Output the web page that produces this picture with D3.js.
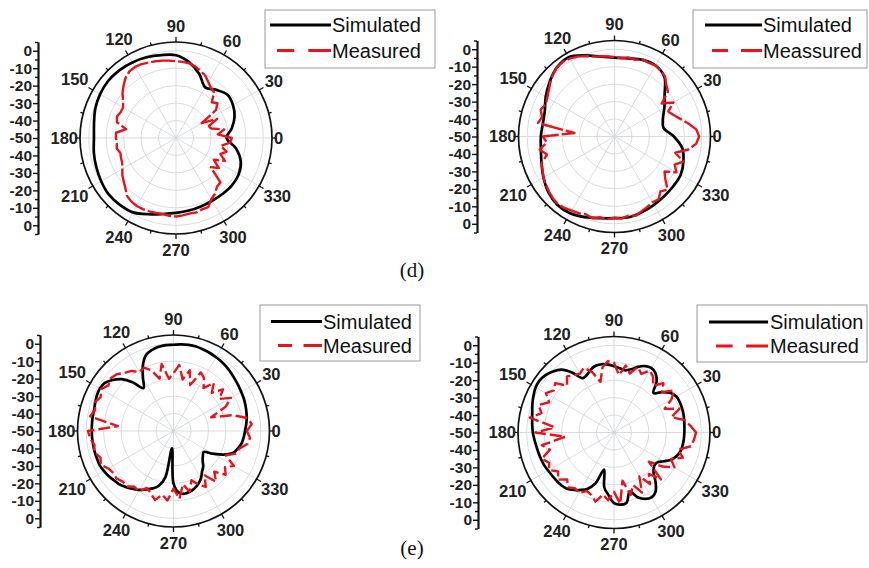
<!DOCTYPE html>
<html><head><meta charset="utf-8">
<script src="https://cdn.jsdelivr.net/npm/d3@7"></script>
<style>body{margin:0;background:#fff}svg{display:block}</style>
</head><body>
<svg id="c" width="869" height="568"></svg>
<script>
// ---------- DATA ----------
const angles10 = d3.range(0, 360, 10);
const angles5 = d3.range(0, 360, 5);
const angleTicks = [0, 30, 60, 90, 120, 150, 180, 210, 240, 270, 300, 330];
const radialTicksUpper = [0, -10, -20, -30, -40, -50];
const radialTicksLower = [0, -10, -20, -30, -40];
const radialMinor = [5, -5, -15, -25, -35, -45];
const gridLevels = [-40, -30, -20, -10, 0];

// (d) left: simulated (10 deg steps), measured (5 deg steps), dB
const sim1 = [-21,-17.5,-14.3,-12.3,-11.5,-14,-16.5,-11,-6,-2.6,-1.8,-0.8,0,0.6,0.8,0.2,-0.8,-2.3,-3,-2.2,-1.4,-0.5,0.3,0,-0.8,-3.5,-5.8,-7.1,-7.8,-8.3,-8.5,-8.3,-8,-8.5,-10.5,-15];
const meas1 = [-18,-26,-22,-29,-30,-24,-33,-22,-19,-21,-16,-15,-13,-10.5,-9,-7.5,-6.5,-6.2,-6,-5.5,-5,-4.5,-4,-3.3,-3,-3.4,-5,-7.5,-10,-13,-15,-15,-14,-15,-21,-15.5,-15.6,-16,-15.5,-17,-16.5,-16,-14.5,-12.5,-11,-9,-6.5,-5.5,-5,-5,-5.3,-5.5,-5.8,-5.3,-5,-5.5,-6,-5.8,-6.5,-6.3,-9.5,-11,-13.5,-14,-24,-20,-25,-19,-23,-20,-24,-19];

// (d) right
const sim2 = [-16,-21.5,-20.5,-17,-12.5,-5.5,-3,-3.3,-4.6,-4.8,-3.5,-0.5,2.5,1.5,-1.5,-4.5,-7.5,-8.3,-7.8,-7.2,-5.5,-3,-0.5,1,0.8,-0.8,-2.5,-3.2,-3,-3.9,-4.8,-5.5,-5.9,-6.2,-8,-10.5];
const meas2 = [-1.5,-3,-7,-11,-14,-16,-11,-17,-10,-8,-5,-4,-3,-3.5,-3,-4.5,-4,-5,-4.5,-4,-3.5,-2.5,-1,0.5,1.5,2,1.5,0,-2,-4,-5.5,-6.5,-5,-7,-5.5,-27,-9,-11,-6.5,-10,-5.5,-4.5,-3,-2,-1,0,0.5,0,-1,-1.5,-2.5,-1.5,-3,-2.5,-3.5,-2.8,-4,-3,-4.5,-5.5,-6.5,-6,-9,-7,-12,-15,-9,-12,-8,-14,-7,-3];

// (e) left (5 deg steps)
const sim3 = [-9,-8.2,-7.4,-6.8,-6.2,-5.6,-5.2,-4.6,-4,-3.2,-2.4,-1.7,-1.2,-0.7,-0.3,0.1,0.1,-0.2,-0.6,-0.6,-1,-2,-3.8,-8.5,-15,-20,-13.5,-8,-4.5,-2,-1.3,-1.6,-2.3,-2.9,-3,-3.1,-3.2,-3.2,-3.3,-3.3,-3.4,-3.4,-4,-4.8,-5.8,-6.5,-8,-9.5,-11,-13,-15,-17.5,-23,-40,-20,-14.5,-13.5,-14,-15,-16.5,-18.6,-21.5,-23.5,-26.4,-28,-29,-24,-18,-13.5,-11.8,-10.3,-9.6];
const meas3 = [-8,-5,-7,-15,-27,-17,-12,-18,-13,-19,-14,-20,-15,-13,-22,-14,-20,-12,-17,-20,-11,-19,-13,-10,-11,-8,-6.5,-4,-3,-4.5,-2,-4,-2,-3.5,-1.5,-18,-1,-2,-4,-3,-5.5,-4,-7,-8,-7.5,-9,-8.5,-11,-10,-14,-12,-9,-13,-10,-17,-11,-19,-14,-20,-16,-13,-19,-12,-17,-11,-14,-10,-17,-12,-11,-7,-6];

// (e) right
const sim4 = [-9.7,-9.5,-9.2,-8.8,-8.6,-8.5,-8.7,-10.5,-14,-18,-12,-8.5,-7.3,-8,-10,-12.5,-13.8,-13,-12,-11,-10.3,-10.3,-11.5,-13.5,-14,-8,-3,-0.5,1.2,2,1.8,0.8,-0.3,-1.5,-2.4,-3,-3.5,-4.2,-4.8,-5.2,-5.5,-5.8,-6.4,-6.8,-7,-7.3,-8,-9.8,-12,-14.5,-19,-28,-18,-14,-9.5,-8.5,-9,-15,-10.5,-8,-7,-8.5,-13,-18,-20,-20,-17,-13.5,-11.5,-10.3,-10,-9.8];
const meas4 = [-3,-6,-9,-16,-10,-18,-12,-8,-14,-10,-15,-11,-9,-13,-10,-15,-11,-17,-10,-9,-12,-20,-13,-9,-11,-10,-8,-12,-6,-8,-5,-9,-4,-7,-1,-16,-5,-22,-8,-12,-6,-9,-7,-11,-8,-12,-9,-11,-10,-13,-12,-9,-14,-11,-16,-9,-22,-13,-18,-12,-21,-14,-19,-12,-24,-16,-10,-14,-8,-12,-5,-4];

const legendNames1 = ["Simulated", "Measured"];
const legendNames2 = ["Simulated", "Meassured"];
const legendNames3 = ["Simulated", "Measured"];
const legendNames4 = ["Simulation", "Measured"];
const captions = ["(d)", "(e)"];

// ---------- LAYOUT ----------
const R = 96;
const rScale = d3.scaleLinear().domain([-50, 5]).range([0, R]);
const RED = "#e8141c";
const panels = [
  {cx:176, cy:138, axisX:38, sim:sim1, simA:angles10, meas:meas1, measA:angles5, dash:"24,3",
   leg:{x:265, y:10, w:170, h:58, l1:25, l2:50.5, lx0:270, lx1:331, tx:332, names:legendNames1}},
  {cx:614.5, cy:136.5, axisX:477, sim:sim2, simA:angles10, meas:meas2, measA:angles5, dash:"22,3",
   leg:{x:693, y:10, w:174, h:58, l1:25, l2:50.5, lx0:705, lx1:762, tx:763, names:legendNames2}},
  {cx:173.5, cy:431, axisX:40, sim:sim3, simA:angles5, meas:meas3, measA:angles5, dash:"12,4",
   leg:{x:260, y:305, w:160, h:56, l1:321.5, l2:345.5, lx0:271, lx1:322, tx:323, names:legendNames3}},
  {cx:614, cy:432.5, axisX:478, sim:sim4, simA:angles5, meas:meas4, measA:angles5, dash:"12,4",
   leg:{x:697, y:305, w:170, h:57, l1:322, l2:346, lx0:709, lx1:768, tx:770, names:legendNames4}}
];

const svg = d3.select("#c");
const rad = a => (90 - a) * Math.PI / 180;   // lineRadial angle convention
const deg = a => a * Math.PI / 180;
const FONT = "Liberation Sans, Arial, sans-serif";

function drawPanel(p) {
  const g = svg.append("g").attr("transform", `translate(${p.cx},${p.cy})`);
  // grid
  g.selectAll("circle.grid").data(gridLevels).join("circle")
    .attr("class","grid").attr("r", d => rScale(d))
    .attr("fill","none").attr("stroke","#cfd3d6").attr("stroke-width",0.8);
  g.selectAll("line.spoke").data(angleTicks).join("line")
    .attr("x1",0).attr("y1",0)
    .attr("x2", d => R*Math.cos(deg(d))).attr("y2", d => -R*Math.sin(deg(d)))
    .attr("stroke","#cfd3d6").attr("stroke-width",0.8);
  // ring
  g.append("circle").attr("r", R).attr("fill","none").attr("stroke","#111").attr("stroke-width",1.7);
  const ringTicks = d3.range(0, 360, 15);
  g.selectAll("line.rt").data(ringTicks).join("line")
    .attr("x1", d => R*Math.cos(deg(d))).attr("y1", d => -R*Math.sin(deg(d)))
    .attr("x2", d => (R + (d%30===0?5:3))*Math.cos(deg(d)))
    .attr("y2", d => -(R + (d%30===0?5:3))*Math.sin(deg(d)))
    .attr("stroke","#111").attr("stroke-width",1.3);

  // simulated
  const simLine = d3.lineRadial()
    .angle((d,i) => rad(p.simA[i])).radius(d => rScale(d))
    .curve(d3.curveCatmullRomClosed.alpha(0.5));
  g.append("path").attr("d", simLine(p.sim))
    .attr("fill","none").attr("stroke","#000").attr("stroke-width",2.7).attr("stroke-linejoin","round");
  // measured
  const measLine = d3.lineRadial()
    .angle((d,i) => rad(p.measA[i])).radius(d => rScale(d))
    .curve(d3.curveLinearClosed);
  g.append("path").attr("d", measLine(p.meas))
    .attr("fill","none").attr("stroke",RED).attr("stroke-width",2.4)
    .attr("stroke-dasharray",p.dash).attr("stroke-linejoin","round");

  // angle labels
  angleTicks.forEach(a => {
    const t = g.append("text").text(a)
      .attr("font-family",FONT).attr("font-weight","bold")
      .attr("font-size",16.5).attr("fill","#222").attr("text-anchor","middle").attr("dy","0.36em");
    const w = t.node().getComputedTextLength();
    const c = Math.cos(deg(a)), s = Math.sin(deg(a));
    const gap = Math.abs(s) < 0.1 ? 2 : (Math.abs(s) > 0.99 ? 10 : 6);
    const dist = R + gap + Math.abs(c)*w/2 + Math.abs(s)*6;
    t.attr("x", dist*c).attr("y", -dist*s);
  });

  // radial axis (linear, left)
  const yU = d3.scaleLinear().domain([-50, 5]).range([p.cy, p.cy - R]);
  const yL = d3.scaleLinear().domain([-50, 5]).range([p.cy, p.cy + R]);
  const ax = svg.append("g").attr("transform", `translate(${p.axisX},0)`);
  const fmt = d => String(d);
  const styleAxis = sel => {
    sel.selectAll("path.domain").attr("stroke","#111").attr("stroke-width",1.7);
    sel.selectAll(".tick line").attr("stroke","#111").attr("stroke-width",1.4);
    sel.selectAll(".tick text").attr("font-family",FONT)
      .attr("font-weight","bold").attr("font-size",15.5).attr("fill","#222");
  };
  ax.append("g").call(d3.axisLeft(yU).tickValues(radialTicksUpper).tickFormat(fmt).tickSize(5).tickPadding(1).tickSizeOuter(0)).call(styleAxis);
  ax.append("g").call(d3.axisLeft(yL).tickValues(radialTicksLower).tickFormat(fmt).tickSize(5).tickPadding(1).tickSizeOuter(0)).call(styleAxis);
  ax.append("g").call(d3.axisLeft(yU).tickValues(radialMinor).tickFormat("").tickSize(3).tickSizeOuter(0)).call(styleAxis);
  ax.append("g").call(d3.axisLeft(yL).tickValues(radialMinor).tickFormat("").tickSize(3).tickSizeOuter(0)).call(styleAxis);

  // legend
  const L = p.leg;
  const lg = svg.append("g");
  lg.append("rect").attr("x",L.x).attr("y",L.y).attr("width",L.w).attr("height",L.h)
    .attr("fill","#fff").attr("stroke","#9a9a9a").attr("stroke-width",1);
  lg.append("line").attr("x1",L.lx0).attr("x2",L.lx1).attr("y1",L.l1).attr("y2",L.l1)
    .attr("stroke","#000").attr("stroke-width",2.8);
  const dlen = L.lx1 - L.lx0 - 7;
  lg.append("line").attr("x1",L.lx0+7).attr("x2",L.lx1).attr("y1",L.l2).attr("y2",L.l2)
    .attr("stroke",RED).attr("stroke-width",2.8)
    .attr("stroke-dasharray", `${dlen*0.32},${dlen*0.26},${dlen*0.42}`);
  [L.l1, L.l2].forEach((yy,i) => {
    lg.append("text").attr("x",L.tx).attr("y",yy).attr("dy","0.36em").text(L.names[i])
      .attr("font-family",FONT).attr("font-size",20).attr("fill","#111");
  });
}
panels.forEach(drawPanel);

// captions
svg.selectAll("text.cap").data(captions).join("text").attr("class","cap")
  .attr("x", 412).attr("y", (d,i) => i===0 ? 277 : 555)
  .attr("text-anchor","middle").attr("font-family","Liberation Serif, Times New Roman, serif")
  .attr("font-size",21).attr("fill","#111").text(d => d);
</script>
</body></html>
